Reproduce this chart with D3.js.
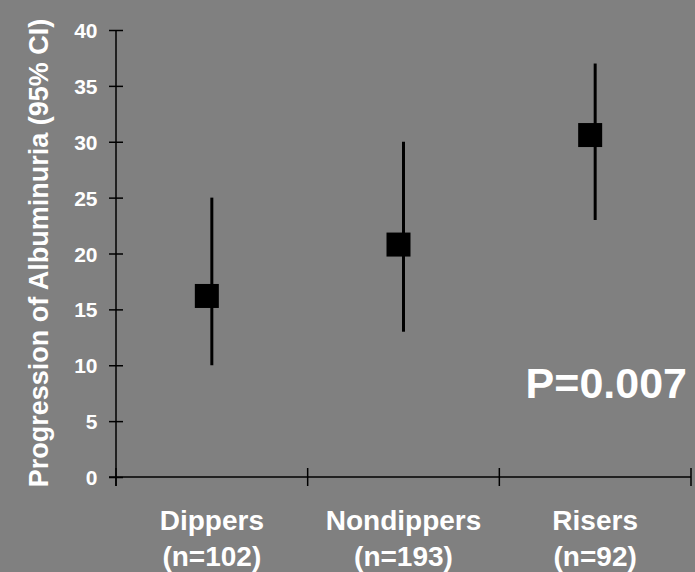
<!DOCTYPE html>
<html><head><meta charset="utf-8">
<script src="https://cdn.jsdelivr.net/npm/d3@7"></script>
<style>html,body{margin:0;padding:0;background:#808080;}svg{display:block;}</style>
</head><body>
<script>
const categories = ["Dippers", "Nondippers", "Risers"];
const sampleSizes = ["(n=102)", "(n=193)", "(n=92)"];
const means = [16.2, 20.8, 30.6];
const lower = [10.0, 13.0, 23.0];
const upper = [25.0, 30.0, 37.0];
const yTicks = [0, 5, 10, 15, 20, 25, 30, 35, 40];
const yTitle = "Progression of Albuminuria (95% CI)";
const pLabel = "P=0.007";

const W = 695, H = 572;
const svg = d3.select("body").append("svg").attr("width", W).attr("height", H);
svg.append("rect").attr("width", W).attr("height", H).attr("fill", "#808080");

const x = d3.scaleBand().domain(categories).range([116, 691]).padding(0);
const y = d3.scaleLinear().domain([0, 40]).range([477, 30]);
const font = "'Liberation Sans', Arial, sans-serif";

// y axis
const yAxis = d3.axisLeft(y).tickValues(yTicks).tickSize(0).tickPadding(0);
const gy = svg.append("g").attr("transform", "translate(116,0)").call(yAxis);
gy.select(".domain").attr("stroke", "#000").attr("stroke-width", 1.5).attr("d", `M0,${y(40)}V${y(0)+9}`);
gy.selectAll(".tick text").remove();
gy.selectAll(".tick").append("line").attr("x1", -7).attr("x2", 7).attr("stroke", "#000").attr("stroke-width", 1.5);
gy.selectAll(".tick").append("text").attr("x", -18.5).attr("dy", "0.36em")
  .attr("text-anchor", "end").attr("fill", "#fff").attr("font-family", font)
  .attr("font-weight", "bold").attr("font-size", 21).text(d => d);

// x axis
const gx = svg.append("g").attr("transform", `translate(0,${y(0)})`);
gx.append("line").attr("x1", 109).attr("x2", 691).attr("stroke", "#000").attr("stroke-width", 1.5);
const bounds = [x.range()[0]].concat(categories.map(c => x(c) + x.bandwidth()));
gx.selectAll(".xt").data(bounds).enter().append("line")
  .attr("x1", d => d).attr("x2", d => d).attr("y1", -9).attr("y2", 9)
  .attr("stroke", "#000").attr("stroke-width", 1.5);

// category labels
const lab = svg.append("g");
categories.forEach((c, i) => {
  const cx = x(c) + x.bandwidth() / 2;
  lab.append("text").attr("x", cx).attr("y", 530).attr("text-anchor", "middle")
    .attr("fill", "#fff").attr("font-family", font).attr("font-weight", "bold")
    .attr("font-size", 28).text(c);
  lab.append("text").attr("x", cx).attr("y", 566).attr("text-anchor", "middle")
    .attr("fill", "#fff").attr("font-family", font).attr("font-weight", "bold")
    .attr("font-size", 28).text(sampleSizes[i]);
});

// error bars
const pts = categories.map((c, i) => ({c, m: means[i], lo: lower[i], hi: upper[i]}));
svg.append("g").selectAll("line").data(pts).enter().append("line")
  .attr("x1", d => x(d.c) + x.bandwidth() / 2).attr("x2", d => x(d.c) + x.bandwidth() / 2)
  .attr("y1", d => y(d.hi)).attr("y2", d => y(d.lo))
  .attr("stroke", "#000").attr("stroke-width", 3);
const ms = 24;
svg.append("g").selectAll("rect").data(pts).enter().append("rect")
  .attr("x", d => x(d.c) + x.bandwidth() / 2 - 5 - ms / 2)
  .attr("y", d => y(d.m) - ms / 2)
  .attr("width", ms).attr("height", ms).attr("fill", "#000");

// y title
svg.append("text").attr("transform", `translate(48,253) rotate(-90)`)
  .attr("text-anchor", "middle").attr("fill", "#fff").attr("font-family", font)
  .attr("font-weight", "bold").attr("font-size", 27).text(yTitle);

// p value
svg.append("text").attr("x", 687).attr("y", 398).attr("text-anchor", "end")
  .attr("fill", "#fff").attr("font-family", font).attr("font-weight", "bold")
  .attr("font-size", 43).text(pLabel);
</script>
</body></html>
